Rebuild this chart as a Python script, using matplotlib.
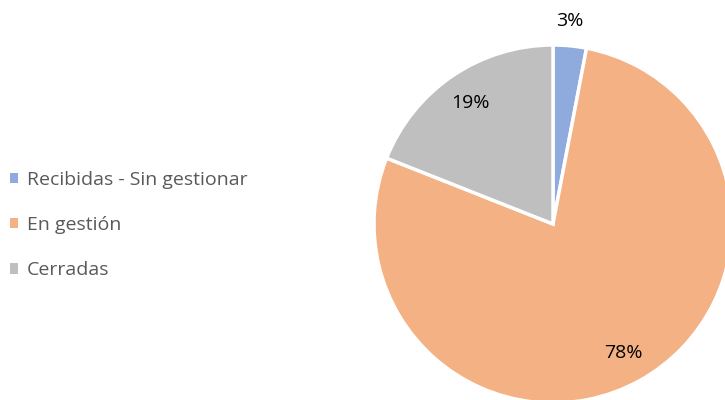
import matplotlib.pyplot as plt

labels = ["Recibidas - Sin gestionar", "En gestión", "Cerradas"]
values = [3, 78, 19]
colors = ["#8FAADC", "#F4B183", "#BFBFBF"]

plt.rcParams["font.family"] = ["Open Sans", "DejaVu Sans"]

W, H = 725, 400
fig = plt.figure(figsize=(W / 100, H / 100), dpi=100)

# pie centre (553, 224) px from top-left, radius ~179 px
cx, cy, r = 553, 224, 179
ax = fig.add_axes([(cx - r) / W, (H - cy - r) / H, 2 * r / W, 2 * r / H])
ax.axis("off")

wedges, texts, autotexts = ax.pie(
    values,
    colors=colors,
    startangle=90,
    counterclock=False,
    radius=1,
    autopct="%1.0f%%",
    pctdistance=0.82,
    wedgeprops=dict(edgecolor="white", linewidth=2.5),
    textprops=dict(fontsize=14, color="#000000"),
)
ax.set_xlim(-1, 1)
ax.set_ylim(-1, 1)
ax.set_aspect("equal")
for w in wedges:
    w.set_clip_on(False)

# small slice label goes outside the pie
x, y = autotexts[0].get_position()
scale = 1.14 / 0.82
autotexts[0].set_position((x * scale * 0.85, y * scale))
autotexts[0].set_clip_on(False)

fig.legend(
    wedges,
    labels,
    loc="center left",
    bbox_to_anchor=(0.0, (H - 225) / H),
    frameon=False,
    fontsize=14,
    labelcolor="#595959",
    handlelength=0.45,
    handleheight=0.45,
    handletextpad=0.45,
    labelspacing=1.4,
    borderpad=0,
    borderaxespad=0.5,
)
for h in fig.legends[0].legend_handles:
    h.set_edgecolor("none")

plt.savefig("out.png", dpi=100)
